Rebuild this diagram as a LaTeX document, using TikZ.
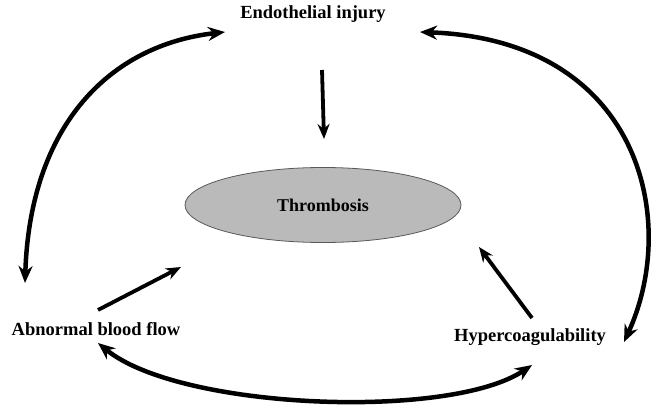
\documentclass[tikz,border=0pt]{standalone}
\usepackage{fontspec}
\setmainfont{Liberation Serif}
\usetikzlibrary{arrows.meta,shapes.geometric}
\begin{document}
\begin{tikzpicture}[x=1pt,y=-1pt,
  lbl/.style={font=\fontsize{18.5}{20}\selectfont\bfseries, inner sep=0pt},
  curvearr/.style={line width=4.5pt, {Stealth[length=17pt,width=14pt]}-{Stealth[length=17pt,width=14pt]}},
  straightarr/.style={line width=3.8pt, -{Stealth[length=15pt,width=12pt]}},
  blob/.style={ellipse, draw=black!65, line width=0.8pt, fill=black!27, minimum width=276pt, minimum height=75pt, inner sep=0pt}]
\useasboundingbox (0,0) rectangle (652,409);
\node[lbl] (endo) at (313,14) {Endothelial injury};
\node[blob] (thromb) at (323,205) {};
\node[lbl, font=\fontsize{18}{20}\selectfont\bfseries] (thtext) at (thromb.center) {Thrombosis};
\node[lbl] (abn) at (96,329) {Abnormal blood flow};
\node[lbl] (hyper) at (530,337) {Hypercoagulability};
% connector end points
\coordinate (eL) at (225,32);
\coordinate (eR) at (420,32);
\coordinate (aT) at (25,283);
\coordinate (aB) at (98,343);
\coordinate (hR) at (624,342);
\coordinate (hB) at (532,365);
\coordinate (eD) at (322,70);
\coordinate (tT) at (324,139);
\coordinate (aS) at (98,310);
\coordinate (tL) at (181,267);
\coordinate (hS) at (532,318);
\coordinate (tR) at (479,247);
% curved double arrows
\draw[curvearr] (eL) .. controls (110,45) and (30,125) .. (aT);
\draw[curvearr] (eR) .. controls (640,40) and (680,220) .. (hR);
\draw[curvearr] (aB) .. controls (180,410) and (450,420) .. (hB);
% straight arrows
\draw[straightarr] (eD) -- (tT);
\draw[straightarr] (aS) -- (tL);
\draw[straightarr] (hS) -- (tR);
\end{tikzpicture}
\end{document}
